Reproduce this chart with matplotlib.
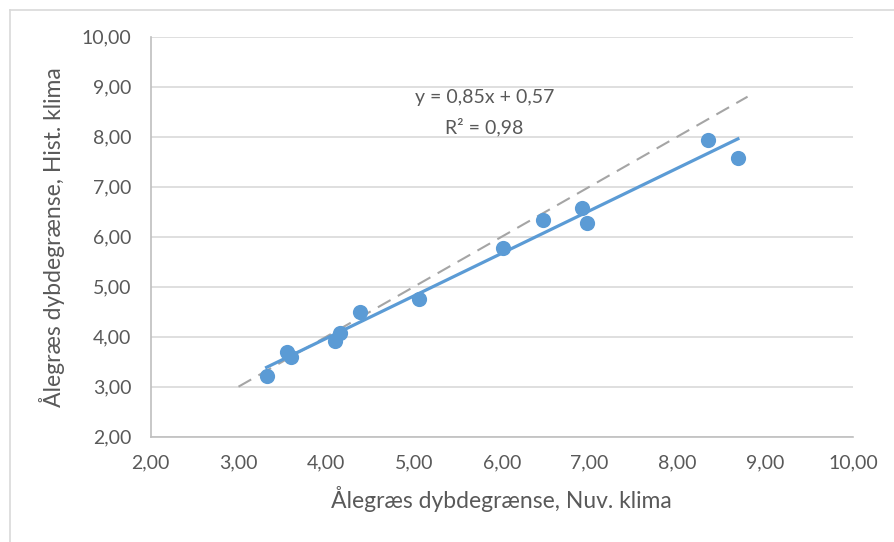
import matplotlib.pyplot as plt
import numpy as np
from matplotlib.lines import Line2D

# Ålegræs dybdegrænse: nuværende klima (x) vs historisk klima (y)
nuv_klima = [3.32, 3.55, 3.60, 4.10, 4.16, 4.38, 5.06, 6.01, 6.47, 6.91, 6.97, 8.35, 8.69]
hist_klima = [3.22, 3.70, 3.59, 3.91, 4.07, 4.50, 4.75, 5.77, 6.33, 6.57, 6.28, 7.94, 7.58]
ref_line = [3.0, 8.8]
ticks = [2, 3, 4, 5, 6, 7, 8, 9, 10]
eq_text = 'y = 0,85x + 0,57'
r2_text = 'R² = 0,98'

blue = '#5B9BD5'
text_col = '#595959'

plt.rcParams['font.family'] = ['Lato', 'DejaVu Sans']

fig = plt.figure(figsize=(8.94, 5.42), dpi=100)
ax = fig.add_axes([0.1686, 0.1943, 0.954 - 0.1686, 0.9323 - 0.1943])

# 1:1 reference line
ax.plot(ref_line, ref_line, color='#A5A5A5', lw=1.5, dashes=(7, 4), zorder=2)

# linear trend line
coef = np.polyfit(nuv_klima, hist_klima, 1)
xs = np.array([min(nuv_klima), max(nuv_klima)])
ax.plot(xs, np.polyval(coef, xs), color=blue, lw=2.3, zorder=3)

ax.scatter(nuv_klima, hist_klima, s=120, color=blue, zorder=4, linewidths=0)

ax.text(5.8, 8.79, eq_text, ha='center', va='center', fontsize=14, color=text_col)
ax.text(5.8, 8.2, r2_text, ha='center', va='center', fontsize=14, color=text_col)

ax.set_xlim(2, 10)
ax.set_ylim(2, 10)
ax.set_xticks(ticks)
ax.set_yticks(ticks)
ax.set_xticklabels([f'{t:.2f}'.replace('.', ',') for t in ticks])
ax.set_yticklabels([f'{t:.2f}'.replace('.', ',') for t in ticks])
ax.tick_params(length=0, labelsize=14, colors=text_col)
ax.tick_params(axis='x', pad=13)
ax.tick_params(axis='y', pad=14)
ax.grid(axis='y', color='#D9D9D9', lw=1.2)
ax.set_axisbelow(True)

for side in ['top', 'right']:
    ax.spines[side].set_visible(False)
for side in ['left', 'bottom']:
    ax.spines[side].set_color('#BFBFBF')
    ax.spines[side].set_linewidth(1.2)

ax.set_xlabel('Ålegræs dybdegrænse, Nuv. klima', fontsize=16.5, color=text_col, labelpad=10)
ax.set_ylabel('Ålegræs dybdegrænse, Hist. klima', fontsize=16.5, color=text_col, labelpad=12)

# chart frame (left and top edges visible)
fig.add_artist(Line2D([10 / 894, 10 / 894], [0, 1 - 10 / 542], color='#D9D9D9', lw=1.2))
fig.add_artist(Line2D([10 / 894, 1], [1 - 10 / 542, 1 - 10 / 542], color='#D9D9D9', lw=1.2))

plt.savefig('out.png', dpi=100)
plt.close()
